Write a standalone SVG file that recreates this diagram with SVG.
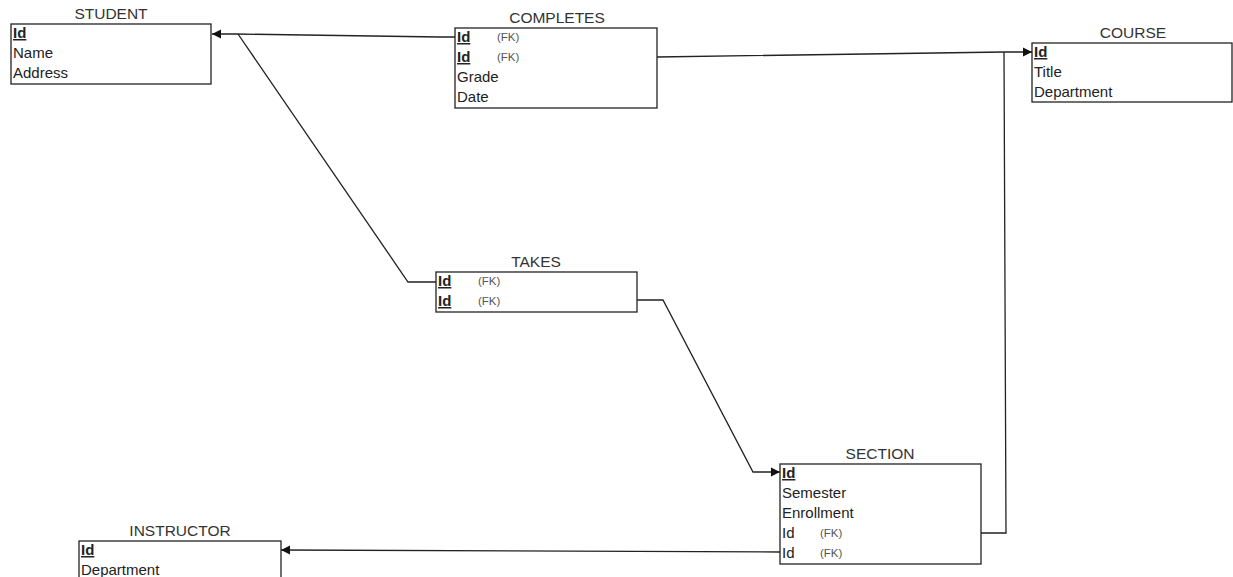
<svg xmlns="http://www.w3.org/2000/svg" width="1233" height="577" viewBox="0 0 1233 577">
<style>
.box{fill:#fff;stroke:#222;stroke-width:1.3}
.t{font-family:"Liberation Sans",Arial,sans-serif;font-size:15px;fill:#222}
.ttl{font-family:"Liberation Sans",Arial,sans-serif;font-size:15.5px;fill:#333;text-anchor:middle}
.pk{font-weight:bold;text-decoration:underline}
.fk{font-family:"Liberation Sans",Arial,sans-serif;font-size:11.5px;fill:#555}
.c{fill:none;stroke:#222;stroke-width:1.3}
</style>
<defs>
<marker id="ah" viewBox="0 0 10 10" refX="10" refY="5" markerWidth="9" markerHeight="10" markerUnits="userSpaceOnUse" orient="auto">
<path d="M0,0 L10,5 L0,10 z" fill="#111"/>
</marker>
</defs>
<rect width="1233" height="577" fill="#fff"/>
<g id="connectors">
<path class="c" d="M455,37 L440,37 L237,34 L212,34" marker-end="url(#ah)"/>
<path class="c" d="M436,282 L408,282 L238,34" />
<path class="c" d="M657,57 L1004,52 L1032,52" marker-end="url(#ah)"/>
<path class="c" d="M981,533 L1006,533 L1004,52" />
<path class="c" d="M637,300 L663,300 L753,472 L780,472" marker-end="url(#ah)"/>
<path class="c" d="M780,552 L281,550" marker-end="url(#ah)"/>
</g>
<g id="student">
<text class="ttl" x="111" y="19">STUDENT</text>
<rect class="box" x="11" y="24" width="200" height="60"/>
<text class="t pk" x="13" y="38">Id</text>
<text class="t" x="13" y="58">Name</text>
<text class="t" x="13" y="78">Address</text>
</g>
<g id="completes">
<text class="ttl" x="557" y="23">COMPLETES</text>
<rect class="box" x="455" y="28" width="202" height="80"/>
<text class="t pk" x="457" y="42">Id</text><text class="fk" x="497" y="41">(FK)</text>
<text class="t pk" x="457" y="62">Id</text><text class="fk" x="497" y="61">(FK)</text>
<text class="t" x="457" y="82">Grade</text>
<text class="t" x="457" y="102">Date</text>
</g>
<g id="course">
<text class="ttl" x="1133" y="38">COURSE</text>
<rect class="box" x="1032" y="43" width="200" height="59"/>
<text class="t pk" x="1034" y="57">Id</text>
<text class="t" x="1034" y="77">Title</text>
<text class="t" x="1034" y="97">Department</text>
</g>
<g id="takes">
<text class="ttl" x="536" y="267">TAKES</text>
<rect class="box" x="436" y="272" width="201" height="40"/>
<text class="t pk" x="438" y="286">Id</text><text class="fk" x="478" y="285">(FK)</text>
<text class="t pk" x="438" y="306">Id</text><text class="fk" x="478" y="305">(FK)</text>
</g>
<g id="section">
<text class="ttl" x="880" y="459">SECTION</text>
<rect class="box" x="780" y="464" width="201" height="100"/>
<text class="t pk" x="782" y="478">Id</text>
<text class="t" x="782" y="498">Semester</text>
<text class="t" x="782" y="518">Enrollment</text>
<text class="t" x="782" y="538">Id</text><text class="fk" x="820" y="537">(FK)</text>
<text class="t" x="782" y="558">Id</text><text class="fk" x="820" y="557">(FK)</text>
</g>
<g id="instructor">
<text class="ttl" x="180" y="536">INSTRUCTOR</text>
<rect class="box" x="79" y="541" width="202" height="60"/>
<text class="t pk" x="81" y="555">Id</text>
<text class="t" x="81" y="575">Department</text>
</g>
</svg>
